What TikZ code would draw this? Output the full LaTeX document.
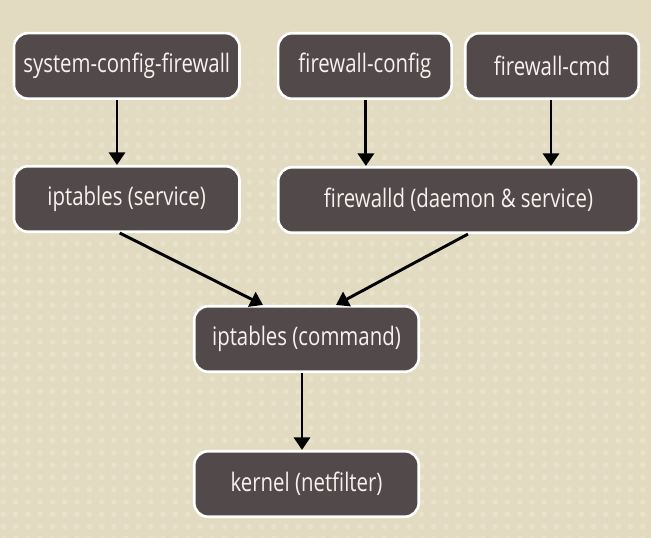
\documentclass[tikz,border=0pt]{standalone}
\usepackage{fontspec}
\IfFontExistsTF{Open Sans SemiBold}{\setmainfont{Open Sans SemiBold}[FakeStretch=0.78]}{\setmainfont{Open Sans}[FakeStretch=0.8]}
\usetikzlibrary{arrows.meta,calc}
\definecolor{bgc}{HTML}{E2DBC1}
\definecolor{dotc}{HTML}{E8E2CC}
\definecolor{boxc}{HTML}{524A4A}
\definecolor{txtc}{HTML}{F6F2F0}
\tikzset{
  box/.style={draw=white, line width=2.6pt, fill=boxc, rounded corners=14pt,
    text=txtc, inner sep=0pt, minimum height=65.5pt,
    font=\fontsize{25.5}{28}\selectfont},
  conn/.style={line width=2.9pt, -{Triangle[length=12.5pt,width=16pt]}}
}
\begin{document}
\begin{tikzpicture}[x=1pt,y=-1pt]
\useasboundingbox (0,0) rectangle (651,538);
\fill[bgc] (0,0) rectangle (651,538);
\foreach \i in {0,...,53}{
  \foreach \j in {0,...,43}{
    \pgfmathsetmacro{\yy}{10+12.3*\j}
    \pgfmathsetmacro{\op}{min(1,max(0,(\yy-10)/140))}
    \fill[dotc, opacity=\op] ({3.2+12.3*\i},\yy) circle (2.8);
  }
}
\node[box, minimum width=225.5pt] (sys) at (126.7,65.9) {system-config-firewall};
\node[box, minimum width=173.5pt] (fwc) at (364.9,66) {firewall-config};
\node[box, minimum width=173.5pt] (cmd) at (552,66) {firewall-cmd};
\node[box, minimum width=225.5pt] (ips) at (126.7,199) {iptables (service)};
\node[box, minimum width=360.5pt] (fwd) at (458.5,200) {firewalld (daemon \& service)};
\node[box, minimum width=224.5pt] (ipc) at (306.5,339) {iptables (command)};
\node[box, minimum width=224.5pt] (ker) at (306.5,484) {kernel (netfilter)};
\draw[conn] ([xshift=-9.7pt]sys.south) -- ([xshift=-9.7pt]ips.north);
\draw[conn] ([xshift=1pt]fwc.south) -- ([xshift=1pt]fwc.south |- fwd.north);
\draw[conn] ([xshift=-1pt]cmd.south) -- ([xshift=-1pt]cmd.south |- fwd.north);
\draw[conn] ([xshift=-7pt]ips.south) -- ([xshift=-43.5pt]ipc.north);
\draw[conn] ([xshift=9.5pt]fwd.south) -- ([xshift=29.5pt]ipc.north);
\draw[conn] ([xshift=-4.5pt]ipc.south) -- ([xshift=-4.5pt]ker.north);
\end{tikzpicture}
\end{document}
